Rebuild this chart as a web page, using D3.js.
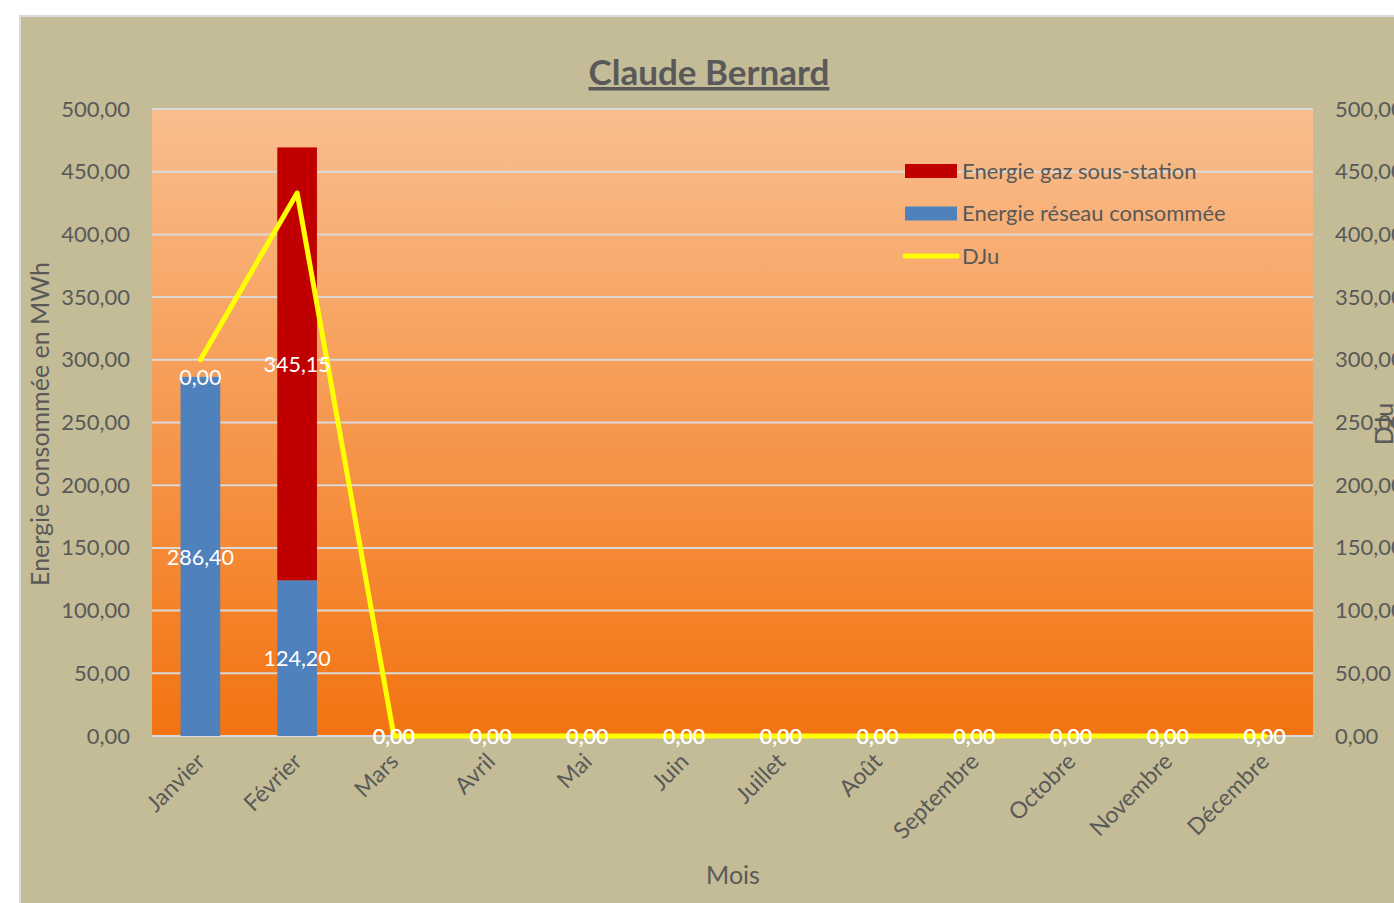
<!DOCTYPE html>
<html>
<head>
<meta charset="utf-8">
<script src="https://cdn.jsdelivr.net/npm/d3@7"></script>
<style>
  body { margin: 0; background: #ffffff; overflow: hidden; }
  svg text { font-family: Lato, "Noto Sans", sans-serif; }
</style>
</head>
<body>
<div id="svgDiv" style="width:1394px;height:903px"></div>
<script>
// chart data
var months = ["Janvier", "Février", "Mars", "Avril", "Mai", "Juin", "Juillet", "Août", "Septembre", "Octobre", "Novembre", "Décembre"];
var reseau = [286.40, 124.20, 0, 0, 0, 0, 0, 0, 0, 0, 0, 0];
var gaz = [0, 345.15, 0, 0, 0, 0, 0, 0, 0, 0, 0, 0];
var dju = [300, 433, 0, 0, 0, 0, 0, 0, 0, 0, 0, 0];
var yTicks = [0, 50, 100, 150, 200, 250, 300, 350, 400, 450, 500];

var textColor = "#595959";
var fmt = function(v){ return v.toFixed(2).replace(".", ","); };

var svg = d3.select("#svgDiv").append("svg")
    .attr("width", 1394)
    .attr("height", 903);

// chart frame
svg.append("rect")
    .attr("x", 20).attr("y", 16)
    .attr("width", 1394).attr("height", 903)
    .attr("fill", "#c4bc96")
    .attr("stroke", "#d9d9d9")
    .attr("stroke-width", 2);

var plot = {left: 152, right: 1313, top: 109, bottom: 736};

var xScale = d3.scaleBand()
    .domain(months)
    .range([plot.left, plot.right])
    .paddingInner(0.59)
    .paddingOuter(0.295);

var xCenter = d3.scalePoint()
    .domain(months)
    .range([plot.left, plot.right])
    .padding(0.5);

var yScale = d3.scaleLinear().domain([0, 500]).range([plot.bottom, plot.top]);
var y2Scale = d3.scaleLinear().domain([0, 500]).range([plot.bottom, plot.top]);

// plot area gradient
var grad = svg.append("defs").append("linearGradient")
    .attr("id", "plotGrad")
    .attr("x1", 0).attr("y1", 0).attr("x2", 0).attr("y2", 1);
grad.append("stop").attr("offset", "0%").attr("stop-color", "#f9be8e");
grad.append("stop").attr("offset", "100%").attr("stop-color", "#f37310");

svg.append("rect")
    .attr("x", plot.left).attr("y", plot.top)
    .attr("width", plot.right - plot.left)
    .attr("height", plot.bottom - plot.top)
    .attr("fill", "url(#plotGrad)");

// gridlines
svg.append("g")
    .selectAll("line")
    .data(yTicks)
    .enter().append("line")
    .attr("x1", plot.left).attr("x2", plot.right)
    .attr("y1", d => yScale(d)).attr("y2", d => yScale(d))
    .attr("stroke", "#d9d9d9")
    .attr("stroke-width", 2);

// left axis
var leftAxis = svg.append("g")
    .attr("transform", "translate(" + (plot.left - 22) + ",0)")
    .call(d3.axisLeft(yScale).tickValues(yTicks).tickFormat(fmt).tickSize(0).tickPadding(0));
leftAxis.select(".domain").remove();
leftAxis.selectAll("text")
    .attr("fill", textColor)
    .style("font-size", "22px");

// right axis
var rightAxis = svg.append("g")
    .attr("transform", "translate(" + (plot.right + 22) + ",0)")
    .call(d3.axisRight(y2Scale).tickValues(yTicks).tickFormat(fmt).tickSize(0).tickPadding(0));
rightAxis.select(".domain").remove();
rightAxis.selectAll("text")
    .attr("fill", textColor)
    .style("font-size", "22px");

// stacked bars
var stackData = months.map(function(m, i){ return {month: m, reseau: reseau[i], gaz: gaz[i]}; });
var series = d3.stack().keys(["reseau", "gaz"])(stackData);
var colors = {reseau: "#4f81bd", gaz: "#c00000"};

svg.append("g")
    .selectAll("g")
    .data(series)
    .enter().append("g")
    .attr("fill", d => colors[d.key])
    .selectAll("rect")
    .data(d => d)
    .enter().append("rect")
    .attr("x", d => xScale(d.data.month))
    .attr("width", xScale.bandwidth())
    .attr("y", d => yScale(d[1]))
    .attr("height", d => yScale(d[0]) - yScale(d[1]));

// DJu line
var line = d3.line()
    .x(function(d, i){ return xCenter(months[i]); })
    .y(d => y2Scale(d));

svg.append("path")
    .datum(dju)
    .attr("d", line)
    .attr("fill", "none")
    .attr("stroke", "#ffff00")
    .attr("stroke-width", 5)
    .attr("stroke-linejoin", "round")
    .attr("stroke-linecap", "round");

// data labels
svg.append("g")
    .selectAll("g")
    .data(series)
    .enter().append("g")
    .selectAll("text")
    .data(function(s){ return s.map(function(d){ return {d: d, key: s.key}; }); })
    .enter().append("text")
    .attr("x", d => xCenter(d.d.data.month))
    .attr("y", d => (yScale(d.d[0]) + yScale(d.d[1])) / 2)
    .attr("text-anchor", "middle")
    .attr("dy", "0.38em")
    .attr("fill", "#ffffff")
    .style("font-size", "21.5px")
    .text(d => fmt(d.d.data[d.key]));

// x axis labels
svg.append("g")
    .selectAll("text")
    .data(months)
    .enter().append("text")
    .attr("transform", d => "translate(" + (xCenter(d) + 6) + "," + (plot.bottom + 27) + ") rotate(-45)")
    .attr("text-anchor", "end")
    .attr("fill", textColor)
    .style("font-size", "23px")
    .text(d => d);

// title
svg.append("text")
    .attr("x", 709).attr("y", 85)
    .attr("text-anchor", "middle")
    .attr("fill", textColor)
    .style("font-size", "35px")
    .style("font-weight", "bold")
    .style("text-decoration", "underline")
    .text("Claude Bernard");

// axis titles
svg.append("text")
    .attr("transform", "translate(49," + 424 + ") rotate(-90)")
    .attr("text-anchor", "middle")
    .attr("fill", textColor)
    .style("font-size", "25px")
    .text("Energie consommée en MWh");

svg.append("text")
    .attr("transform", "translate(1393," + 424 + ") rotate(-90)")
    .attr("text-anchor", "middle")
    .attr("fill", textColor)
    .style("font-size", "25px")
    .text("DJu");

svg.append("text")
    .attr("x", 733).attr("y", 884)
    .attr("text-anchor", "middle")
    .attr("fill", textColor)
    .style("font-size", "25px")
    .text("Mois");

// legend
var legendItems = [
    {label: "Energie gaz sous-station", type: "rect", color: colors.gaz},
    {label: "Energie réseau consommée", type: "rect", color: colors.reseau},
    {label: "DJu", type: "line", color: "#ffff00"}
];
var legend = svg.append("g").attr("transform", "translate(905,171)");
legendItems.forEach(function(item, i){
    var g = legend.append("g").attr("transform", "translate(0," + (i * 42.5) + ")");
    if(item.type == "rect")
        g.append("rect").attr("x", 0).attr("y", -7).attr("width", 52).attr("height", 14).attr("fill", item.color);
    else
        g.append("line").attr("x1", 0).attr("x2", 52).attr("y1", 0).attr("y2", 0)
            .attr("stroke", item.color).attr("stroke-width", 5).attr("stroke-linecap", "round");
    g.append("text")
        .attr("x", 57).attr("y", 0).attr("dy", "0.36em")
        .attr("fill", textColor)
        .style("font-size", "22px")
        .text(item.label);
});
</script>
</body>
</html>
